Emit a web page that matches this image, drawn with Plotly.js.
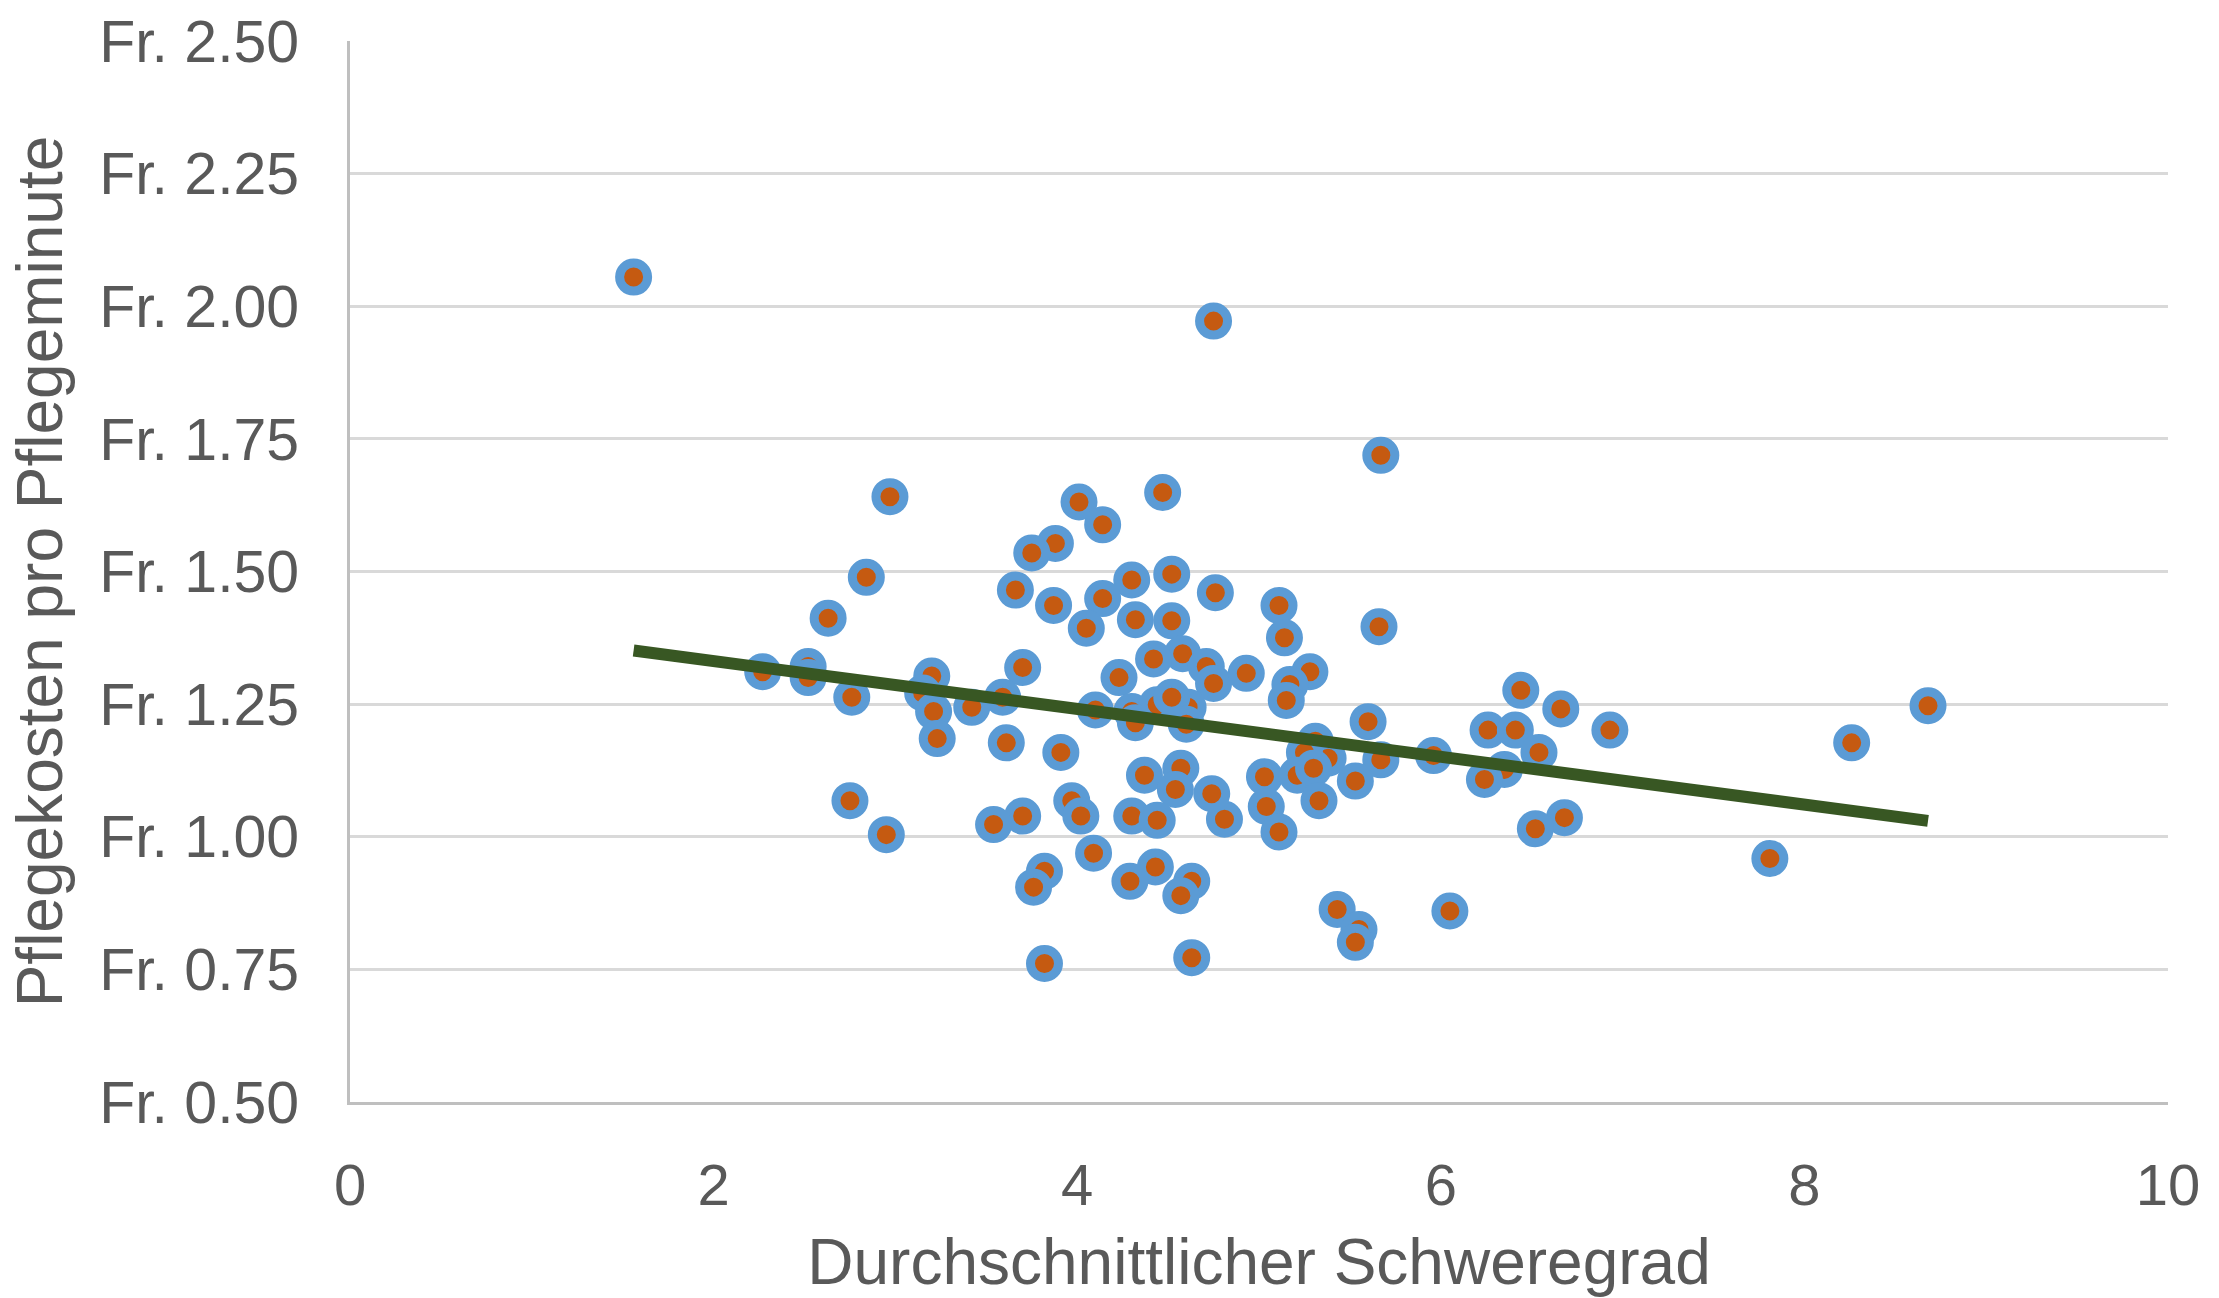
<!DOCTYPE html>
<html>
<head>
<meta charset="utf-8">
<script src="https://cdn.plot.ly/plotly-3.0.1.min.js"></script>
<style>
html,body{margin:0;padding:0;background:#fff;}
#chart{width:2219px;height:1298px;}
</style>
</head>
<body>
<div id="chart"></div>
<script>
// Durchschnittlicher Schweregrad (x) and Pflegekosten pro Pflegeminute in Fr. (y)
const schweregrad = [
  1.56, 4.75, 5.67, 2.97, 4.47, 4.01, 4.14, 3.88, 3.75, 2.84,
  4.52, 4.30, 3.66, 4.76, 3.87, 4.14, 5.11, 2.63, 4.32, 4.52,
  4.05, 5.66, 5.14, 4.58, 4.42, 3.70, 4.71, 4.75, 4.93, 5.28,
  2.27, 2.52, 2.52, 3.20, 4.23, 5.17, 6.44, 2.76, 3.15, 5.15,
  8.68, 6.66, 3.59, 3.42, 3.21, 4.10, 4.30, 4.44, 4.61, 4.52,
  4.60, 4.32, 5.60, 6.93, 6.26, 6.41, 3.23, 8.26, 3.61, 5.31,
  3.91, 5.38, 5.25, 5.96, 5.67, 6.54, 4.37, 5.03, 5.21, 5.30,
  6.35, 6.24, 4.57, 4.54, 5.53, 2.75, 3.97, 5.33, 5.04, 4.02,
  4.30, 4.44, 4.81, 3.70, 6.68, 6.52, 3.54, 2.95, 5.11, 4.09,
  7.81, 4.43, 3.82, 4.29, 4.63, 3.76, 4.57, 5.43, 6.05, 5.55,
  5.53, 3.82, 4.63, 4.74
];
const kostenProMinute = [
  2.055, 1.972, 1.719, 1.641, 1.649, 1.631, 1.588, 1.553, 1.535, 1.489,
  1.495, 1.484, 1.465, 1.460, 1.436, 1.449, 1.436, 1.412, 1.409, 1.407,
  1.393, 1.396, 1.375, 1.345, 1.335, 1.319, 1.321, 1.289, 1.308, 1.311,
  1.311, 1.321, 1.300, 1.303, 1.300, 1.287, 1.276, 1.263, 1.271, 1.257,
  1.247, 1.241, 1.263, 1.244, 1.236, 1.239, 1.236, 1.249, 1.244, 1.263,
  1.212, 1.215, 1.217, 1.201, 1.201, 1.201, 1.185, 1.177, 1.177, 1.180,
  1.159, 1.148, 1.159, 1.153, 1.145, 1.159, 1.116, 1.113, 1.116, 1.129,
  1.127, 1.108, 1.129, 1.089, 1.105, 1.068, 1.068, 1.068, 1.057, 1.039,
  1.039, 1.031, 1.033, 1.039, 1.036, 1.015, 1.023, 1.004, 1.009, 0.969,
  0.959, 0.943, 0.935, 0.916, 0.916, 0.905, 0.889, 0.863, 0.860, 0.825,
  0.801, 0.761, 0.772, 1.081
];
// linear trend line end points
const trendX = [1.56, 8.68];
const trendY = [1.351, 1.030];

const yTickVals = [0.5, 0.75, 1.0, 1.25, 1.5, 1.75, 2.0, 2.25, 2.5];
const yTickText = ['Fr. 0.50', 'Fr. 0.75', 'Fr. 1.00', 'Fr. 1.25', 'Fr. 1.50',
                   'Fr. 1.75', 'Fr. 2.00', 'Fr. 2.25', 'Fr. 2.50'];
const xTickVals = [0, 2, 4, 6, 8, 10];
const xTickText = ['0', '2', '4', '6', '8', '10'];

const fontFamily = '"Liberation Sans", Arial, sans-serif';
const textColor = '#595959';

const traces = [
  {
    type: 'scatter',
    mode: 'markers',
    x: schweregrad,
    y: kostenProMinute,
    marker: {
      color: '#C55A11',
      size: 28,
      line: {color: '#5B9BD5', width: 9}
    },
    hoverinfo: 'x+y',
    showlegend: false
  },
  {
    type: 'scatter',
    mode: 'lines',
    x: trendX,
    y: trendY,
    line: {color: '#385723', width: 12},
    hoverinfo: 'skip',
    showlegend: false
  }
];

const layout = {
  width: 2219,
  height: 1298,
  paper_bgcolor: '#ffffff',
  plot_bgcolor: '#ffffff',
  margin: {l: 350, r: 51, t: 41, b: 196, pad: 0},
  font: {family: fontFamily, color: textColor, size: 58},
  showlegend: false,
  xaxis: {
    range: [0, 10],
    tickmode: 'array',
    tickvals: xTickVals,
    ticktext: xTickText,
    showgrid: false,
    zeroline: false,
    showline: true,
    linecolor: '#BFBFBF',
    linewidth: 3,
    ticks: '',
    ticklabelstandoff: 30,
    tickfont: {family: fontFamily, color: textColor, size: 58},
    title: {
      text: 'Durchschnittlicher Schweregrad',
      font: {family: fontFamily, color: textColor, size: 64},
      standoff: 40
    },
    fixedrange: true
  },
  yaxis: {
    range: [0.5, 2.5],
    tickmode: 'array',
    tickvals: yTickVals,
    ticktext: yTickText,
    showgrid: true,
    gridcolor: '#D9D9D9',
    gridwidth: 3,
    zeroline: false,
    showline: true,
    linecolor: '#BFBFBF',
    linewidth: 3,
    ticks: '',
    ticklabelstandoff: 36,
    tickfont: {family: fontFamily, color: textColor, size: 59},
    title: {
      text: 'Pflegekosten pro Pflegeminute',
      font: {family: fontFamily, color: textColor, size: 64},
      standoff: 16
    },
    fixedrange: true
  }
};

Plotly.newPlot('chart', traces, layout, {displayModeBar: false, staticPlot: true});
</script>
</body>
</html>
